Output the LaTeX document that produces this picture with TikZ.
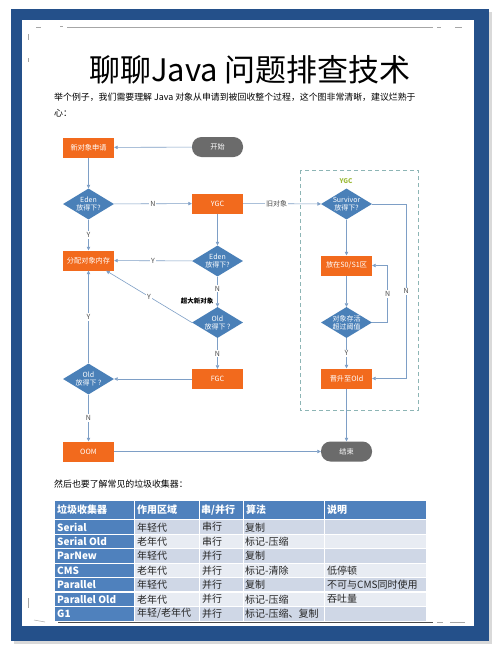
\documentclass[tikz,border=0pt]{standalone}
\usepackage{fontspec}
\setmainfont{Noto Sans CJK SC}
\usetikzlibrary{positioning, arrows.meta, shapes.geometric}

\definecolor{frameblue}{HTML}{24508A}
\definecolor{boxorange}{HTML}{F26A1D}
\definecolor{decblue}{HTML}{4A80B8}
\definecolor{pillgray}{HTML}{6B6B6B}
\definecolor{linkblue}{HTML}{7E9FC6}
\definecolor{dashteal}{HTML}{8DB5B5}
\definecolor{ygcgreen}{HTML}{9DBB3A}
\definecolor{headblue}{HTML}{4F81BD}
\definecolor{rowdark}{HTML}{CFD7E6}
\definecolor{rowlight}{HTML}{E8ECF3}

\tikzset{
  proc/.style={rectangle, fill=boxorange, text=white, minimum width=51pt, minimum height=20pt, inner sep=1pt, font=\fontsize{7.2}{8}\selectfont},
  term/.style={proc, fill=pillgray, rounded corners=9.5pt},
  dec/.style={diamond, aspect=1.7, fill=decblue, text=white, minimum width=51pt, minimum height=31pt, inner sep=-4pt, align=center, font=\fontsize{7}{8}\selectfont},
  conn/.style={draw=linkblue, line width=0.6pt, -{Triangle[length=3.5pt,width=3.5pt]}},
  lbl/.style={fill=white, inner sep=1pt, text=black!70, font=\fontsize{7}{8}\selectfont},
  cropmark/.style={draw=gray!70, line width=0.5pt},
  headtxt/.style={anchor=west, inner sep=0pt, text=white, font=\fontsize{10}{11}\selectfont\bfseries},
  bodytxt/.style={anchor=west, inner sep=0pt, text=black!85, font=\fontsize{10}{11}\selectfont}
}

\begin{document}
\begin{tikzpicture}[x=1pt, y=-1pt]
\useasboundingbox (0,0) rectangle (500,653);
\fill[white] (0,0) rectangle (500,653);

% Page frame
\fill[gray!30] (14,12) rectangle (492,644);
\fill[frameblue] (11,9) rectangle (489,641);
\fill[white] (22,20) rectangle (474,626);

% Crop marks
\draw[cropmark] (67,27) -- (433,27);
\draw[cropmark] (36,27) -- (41,27);
\draw[cropmark] (60,26) -- (63,26);
\draw[cropmark] (437,27) -- (441,27);
\draw[cropmark] (455,27) -- (462,27);
\draw[cropmark] (28,34) -- (28,40);
\draw[cropmark] (28,58) -- (28,62);
\draw[cropmark] (28,598) -- (28,608);
\draw[cropmark] (34,620) -- (45,622);
\draw[cropmark] (437,622) -- (443,622);
\draw[cropmark] (450,622) -- (465,622);

% Title and text
\node[font=\fontsize{31}{34}\selectfont] (title) at (250,70) {聊聊Java 问题排查技术};
\node[anchor=west, inner sep=0pt, font=\fontsize{8.9}{10}\selectfont] (para1) at (54,97) {举个例子，我们需要理解 Java 对象从申请到被回收整个过程，这个图非常清晰，建议烂熟于};
\node[anchor=west, inner sep=0pt, font=\fontsize{8.9}{10}\selectfont] (para2) at (54,113) {心：};

% Flow chart nodes
\node[term] (start) at (217.5,147) {开始};
\node[proc] (newobj) at (88.5,147.5) {新对象申请};
\node[dec] (eden1) at (88.5,204) {Eden\\放得下?};
\node[proc] (ygc) at (217.5,203.5) {YGC};
\node[proc] (alloc) at (88.5,260.5) {分配对象内存};
\node[dec] (eden2) at (217.5,261) {Eden\\放得下?};
\node[dec] (old1) at (217.5,322.5) {Old\\放得下 ?};
\node[proc] (fgc) at (217.5,379) {FGC};
\node[dec] (old2) at (88.5,379) {Old\\放得下 ?};
\node[proc] (oom) at (88.5,451.5) {OOM};
\node[term] (finish) at (346.5,451.5) {结束};
\node[font=\fontsize{6.5}{7}\selectfont\bfseries, inner sep=0pt] (huge) at (197,301) {超大新对象};

% YGC area
\draw[dashteal, line width=0.8pt, dash pattern=on 4pt off 3pt] (300,170) rectangle (418,410);
\node[text=ygcgreen, font=\fontsize{6.5}{7}\selectfont\bfseries] (ygctag) at (346,181) {YGC};
\node[dec] (surv) at (346.5,204) {Survivor\\放得下?};
\node[proc] (s01) at (346.5,265.5) {放在S0/S1区};
\node[dec] (thr) at (346.5,322.5) {对象存活\\超过阈值};
\node[proc] (promote) at (346.5,378.5) {晋升至Old};

% Connectors
\draw[conn] (start) -- (newobj);
\draw[conn] (newobj) -- (eden1);
\draw[conn] (eden1) -- node[lbl] {N} (ygc);
\draw[conn] (eden1) -- node[lbl] {Y} (alloc);
\draw[conn] (ygc) -- (eden2);
\draw[conn] (eden2) -- node[lbl] {Y} (alloc);
\draw[conn] (eden2) -- node[lbl, pos=0.4] {N} (old1);
\draw[conn] (old1.west) -- node[lbl] {Y} (alloc.-30);
\draw[conn] (old1) -- node[lbl] {N} (fgc);
\draw[conn] (fgc) -- (old2);
\draw[conn] (old2) -- node[lbl] {Y} (alloc);
\draw[conn] (old2) -- node[lbl] {N} (oom);
\draw[conn] (oom) -- (finish);
\draw[conn] (ygc) -- node[lbl, pos=0.43] {旧对象} (surv);
\draw[conn] (surv) -- (s01);
\draw[conn] (s01) -- (thr);
\draw[conn] (thr) -- node[lbl] {Y} (promote);
\draw[conn] (promote) -- (finish);
\draw[conn] (surv.east) -- ++(34,0) |- node[lbl, pos=0.25] {N} (promote.east);
\draw[conn] (thr.east) -- ++(15.5,0) |- node[lbl, pos=0.25] {N} (s01.east);

% Collectors
\node[anchor=west, inner sep=0pt, font=\fontsize{8.9}{10}\selectfont] (para3) at (54,484) {然后也要了解常见的垃圾收集器：};

% Table header
\fill[headblue] (55,501) rectangle (426,519);
\foreach \x/\t [count=\i] in {57/垃圾收集器, 137/作用区域, 201/{串/并行}, 246/算法, 327/说明}
  \node[headtxt] (head\i) at (\x,510) {\t};

% Table rows
\foreach \r/\n/\a/\b/\c/\d in {
  0/Serial/年轻代/串行/复制/{},
  1/Serial Old/老年代/串行/标记-压缩/{},
  2/ParNew/年轻代/并行/复制/{},
  3/CMS/老年代/并行/标记-清除/低停顿,
  4/Parallel/年轻代/并行/复制/不可与CMS同时使用,
  5/Parallel Old/老年代/并行/标记-压缩/吞吐量,
  6/G1/{年轻/老年代}/并行/标记-压缩、复制/{}}
{
  \pgfmathsetmacro\yy{520+14.4*\r}
  \ifodd\r \def\rowcol{rowlight}\else \def\rowcol{rowdark}\fi
  \fill[\rowcol] (134,\yy) rectangle (426,\yy+14.4);
  \fill[headblue] (55,\yy) rectangle (134,\yy+14.4);
  \node[headtxt] (name\r) at (57,\yy+7.2) {\n};
  \node[bodytxt] (area\r) at (137,\yy+7.2) {\a};
  \node[bodytxt] (mode\r) at (202,\yy+7.2) {\b};
  \node[bodytxt] (algo\r) at (245,\yy+7.2) {\c};
  \node[bodytxt] (note\r) at (327,\yy+7.2) {\d};
}

% Cell borders
\foreach \x in {134,199,243,324}
  \draw[white, line width=1pt] (\x,501) -- (\x,621);
\foreach \y in {519.5,534.4,548.8,563.2,577.6,592,606.4}
  \draw[white, line width=1.2pt] (55,\y) -- (426,\y);
\draw[black!70, line width=0.8pt] (58,622) -- (433,622);
\end{tikzpicture}
\end{document}
